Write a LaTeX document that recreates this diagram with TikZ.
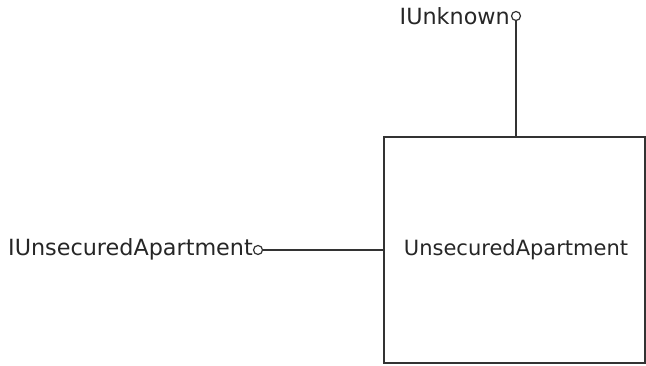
\documentclass[tikz,border=0pt]{standalone}
\usepackage{fontspec}
\setmainfont{DejaVu Sans}
\begin{document}
\begin{tikzpicture}[x=1pt,y=1pt,
  lbl/.style={font=\fontsize{22.3}{26}\selectfont, text=black!85, inner sep=0pt},
  boxlbl/.style={font=\fontsize{21}{25}\selectfont, text=black!85, inner sep=0pt},
  lolli/.style={draw=black!80, line width=1.2pt, circle, minimum size=9pt, inner sep=0pt, fill=white},
  conn/.style={draw=black!80, line width=1.3pt},
  comp/.style={draw=black!80, line width=1.3pt, minimum width=261pt, minimum height=226pt, inner sep=0pt}]
\useasboundingbox (0,0) rectangle (646,366);
\node[comp] (box) at (514.5,116) {};
\node[boxlbl] (boxtxt) at (516,116) {UnsecuredApartment};
\node[lolli] (c1) at (516,350) {};
\node[lolli] (c2) at (258,116) {};
\node[lbl, anchor=east] (t1) at (510,350) {IUnknown};
\node[lbl, anchor=east] (t2) at (253,117) {IUnsecuredApartment};
\draw[conn] (c1.south) -- (c1.south |- box.north);
\draw[conn] (c2.east) -- (c2.east -| box.west);
\end{tikzpicture}
\end{document}
